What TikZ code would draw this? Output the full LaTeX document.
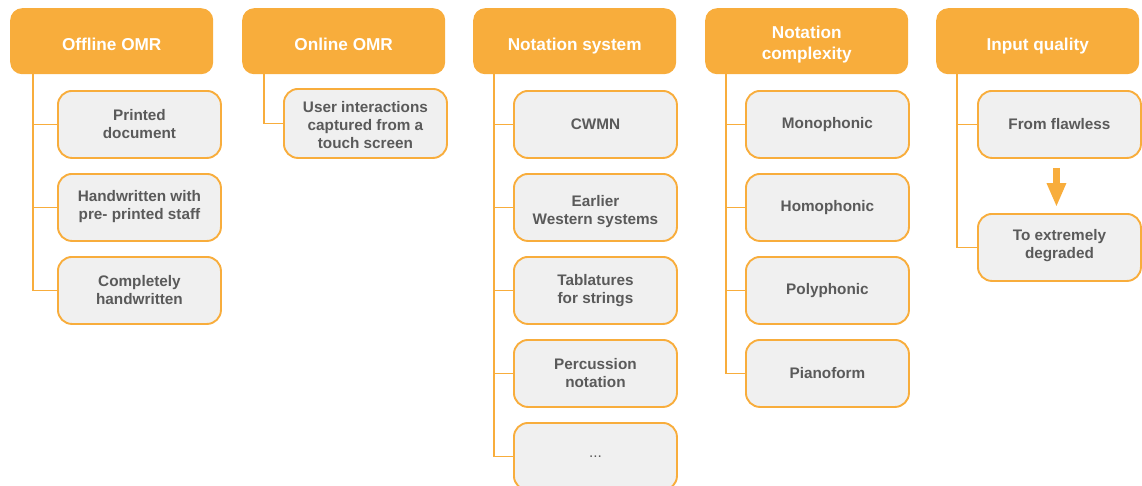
\documentclass[tikz,border=0pt]{standalone}
\usepackage{fontspec}
\setmainfont{Liberation Sans}
\usetikzlibrary{arrows.meta}
\definecolor{omr}{HTML}{F8AD3C}
\definecolor{boxgray}{HTML}{F0F0F0}
\definecolor{txtgray}{HTML}{5A5A5A}
\tikzset{
  head/.style={rectangle, rounded corners=12pt, fill=omr, draw=none,
    minimum width=203pt, minimum height=66pt, inner sep=0pt, anchor=north west},
  headtext/.style={text=white, font=\bfseries\fontsize{17.2}{21}\selectfont,
    align=center, inner sep=0pt},
  item/.style={rectangle, rounded corners=14pt, fill=boxgray, draw=omr, line width=1.9pt,
    minimum width=163pt, minimum height=67pt, inner sep=0pt, anchor=north west},
  itemtext/.style={text=txtgray, font=\bfseries\fontsize{15.3}{18}\selectfont,
    align=center, inner sep=0pt},
  link/.style={draw=omr, line width=1.9pt},
}
% header box with its caption: [vertical text offset] name, x, y, caption
\newcommand\omrhead[5][-3]{%
  \node[head] (#2) at (#3,#4) {};
  \node[headtext] (#2-t) at ([yshift=#1pt]#2.center) {#5};}
% item box with its text: [vertical text offset] name, x, y, text
\newcommand\omrbox[5][0]{%
  \node[item] (#2) at (#3,#4) {};
  \node[itemtext] (#2-t) at ([yshift=#1pt]#2.center) {#5};}
\begin{document}
\begin{tikzpicture}[x=1pt, y=-1pt]
\useasboundingbox (0,0) rectangle (1142,485);

% column headers
\omrhead{h1}{10}{8}{Offline OMR}
\omrhead{h2}{242}{8}{Online OMR}
\omrhead[-4.5]{h3}{473}{8}{Notation system}
\omrhead{h4}{705}{8}{Notation\\complexity}
\omrhead[-4.5]{h5}{936}{8}{Input quality}

% trunk points below each header
\coordinate (t1) at ([xshift=23pt]h1.south west);
\coordinate (t2) at ([xshift=22pt]h2.south west);
\coordinate (t3) at ([xshift=21pt]h3.south west);
\coordinate (t4) at ([xshift=21pt]h4.south west);
\coordinate (t5) at ([xshift=21pt]h5.south west);

% Offline OMR
\omrbox{a1}{57}{90}{Printed\\document}
\omrbox[1]{a2}{57}{173}{Handwritten with\\pre- printed staff}
\omrbox{a3}{57}{256}{Completely\\handwritten}

% Online OMR
\node[item, minimum height=69pt] (b1) at (283,88) {};
\node[itemtext] (b1-t) at ([yshift=-2pt]b1.center) {User interactions\\captured from a\\touch screen};

% Notation system
\omrbox{c1}{513}{90}{CWMN}
\omrbox[-4.5]{c2}{513}{173}{Earlier\\Western systems}
\omrbox{c3}{513}{256}{Tablatures\\for strings}
\omrbox{c4}{513}{339}{Percussion\\notation}
\omrbox{c5}{513}{422}{\mdseries ...}

% Notation complexity
\omrbox{d1}{745}{90}{Monophonic}
\omrbox{d2}{745}{173}{Homophonic}
\omrbox{d3}{745}{256}{Polyphonic}
\omrbox{d4}{745}{339}{Pianoform}

% Input quality
\omrbox{e1}{977}{90}{From flawless}
\omrbox[2]{e2}{977}{213}{To extremely\\degraded}

% tree connectors
\draw[link] (t1) |- (a3.west);
\draw[link] (t1 |- a1.west) -- (a1.west);
\draw[link] (t1 |- a2.west) -- (a2.west);

\draw[link] (t2) |- (b1.west);

\draw[link] (t3) |- (c5.west);
\draw[link] (t3 |- c1.west) -- (c1.west);
\draw[link] (t3 |- c2.west) -- (c2.west);
\draw[link] (t3 |- c3.west) -- (c3.west);
\draw[link] (t3 |- c4.west) -- (c4.west);

\draw[link] (t4) |- (d4.west);
\draw[link] (t4 |- d1.west) -- (d1.west);
\draw[link] (t4 |- d2.west) -- (d2.west);
\draw[link] (t4 |- d3.west) -- (d3.west);

\draw[link] (t5) |- (e2.west);
\draw[link] (t5 |- e1.west) -- (e1.west);

% quality range arrow
\coordinate (q0) at ([xshift=-3pt, yshift=-9pt]e1.south);
\coordinate (q1) at ([xshift=-3pt, yshift=6pt]e2.north);
\draw[omr, line width=7pt, -{Triangle[width=18pt, length=24pt]}] (q0) -- (q1);
\end{tikzpicture}
\end{document}
